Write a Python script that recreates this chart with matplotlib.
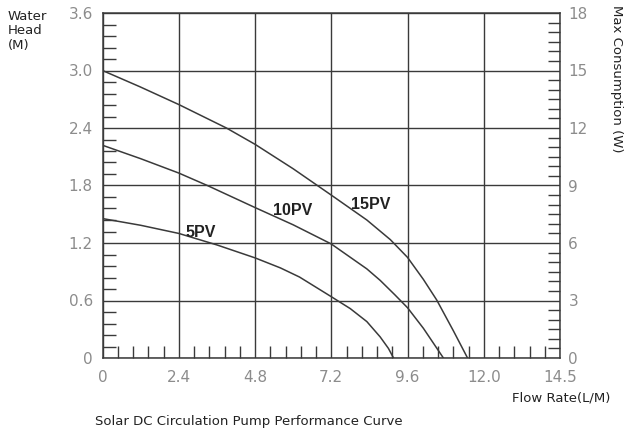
import matplotlib
matplotlib.use("Agg")
from matplotlib import pyplot as plt
from matplotlib.ticker import FixedLocator, MultipleLocator

# readings
flow_15pv = [0, 1.18, 2.4, 3.9, 4.8, 6.0, 7.2, 8.32, 9.06, 9.6, 10.1, 10.52, 11.05, 11.49]
head_15pv = [3.0, 2.83, 2.645, 2.40, 2.23, 1.975, 1.70, 1.44, 1.235, 1.05, 0.82, 0.605, 0.28, 0.0]

flow_10pv = [0, 1.2, 2.4, 3.3, 4.8, 6.0, 7.2, 8.32, 8.74, 9.2, 9.6, 10.1, 10.73]
head_10pv = [2.22, 2.08, 1.93, 1.80, 1.57, 1.39, 1.19, 0.93, 0.81, 0.66, 0.525, 0.31, 0.0]

flow_5pv = [0, 1.2, 2.4, 3.6, 4.8, 5.6, 6.2, 7.2, 7.8, 8.32, 8.74, 9.0, 9.16]
head_5pv = [1.455, 1.385, 1.30, 1.18, 1.045, 0.94, 0.845, 0.64, 0.515, 0.38, 0.22, 0.10, 0.0]

curve_labels = ["5PV", "10PV", "15PV"]
label_x = [3.1, 6.0, 8.45]
label_y = [1.31, 1.54, 1.60]

x_ticks = [0, 2.4, 4.8, 7.2, 9.6, 12.0, 14.4]
x_labels = ["0", "2.4", "4.8", "7.2", "9.6", "12.0", "14.5"]
head_ticks = [0, 0.6, 1.2, 1.8, 2.4, 3.0, 3.6]
head_labels = ["0", "0.6", "1.2", "1.8", "2.4", "3.0", "3.6"]
power_ticks = [0, 3, 6, 9, 12, 15, 18]

W, H = 634, 430
line_col = "#3a3a3a"
tick_col = "#8c8c8c"

fig = plt.figure(figsize=(W / 100, H / 100), dpi=100)
ax = fig.add_axes([102.5 / W, 1 - 358 / H, (560 - 102.5) / W, (358 - 13) / H])

for fx, hy in [(flow_15pv, head_15pv), (flow_10pv, head_10pv), (flow_5pv, head_5pv)]:
    ax.plot(fx, hy, color=line_col, lw=1.1, solid_joinstyle="round")

for txt, lx, ly in zip(curve_labels, label_x, label_y):
    ax.text(lx, ly, txt, ha="center", va="center", fontsize=11.5,
            fontweight="bold", family="Liberation Sans", color="#222222")

ax.set_xlim(0, 14.4)
ax.set_ylim(0, 3.6)
ax.xaxis.set_major_locator(FixedLocator(x_ticks))
ax.set_xticklabels(x_labels)
ax.yaxis.set_major_locator(FixedLocator(head_ticks))
ax.set_yticklabels(head_labels)
ax.xaxis.set_minor_locator(MultipleLocator(0.48))
ax.yaxis.set_minor_locator(MultipleLocator(0.12))
ax.grid(True, which="major", color=line_col, lw=1.0)
ax.tick_params(which="major", length=0, labelsize=11, labelcolor=tick_col)
ax.tick_params(axis="x", which="major", pad=9)
ax.tick_params(axis="y", which="major", pad=7)
ax.tick_params(which="minor", direction="in", length=9, width=1.0, color=line_col)
for s in ax.spines.values():
    s.set_color(line_col)
    s.set_linewidth(1.1)

ax2 = ax.twinx()
ax2.set_ylim(0, 18)
ax2.yaxis.set_major_locator(FixedLocator(power_ticks))
ax2.yaxis.set_minor_locator(MultipleLocator(0.5))
ax2.tick_params(which="major", length=0, labelsize=11, labelcolor=tick_col, pad=6)
ax2.tick_params(which="minor", direction="in", length=9, width=1.0, color=line_col)
for s in ax2.spines.values():
    s.set_visible(False)

lab = dict(fontsize=9.5, color="#222222", family="DejaVu Sans")
fig.text(8 / W, 1 - 17 / H, "Water", va="center", ha="left", **lab)
fig.text(8 / W, 1 - 31 / H, "Head", va="center", ha="left", **lab)
fig.text(8 / W, 1 - 45 / H, "(M)", va="center", ha="left", **lab)
fig.text(617 / W, 1 - 79 / H, "Max Consumption (W)", rotation=270,
         va="center", ha="center", **lab)
fig.text(610 / W, 1 - 398 / H, "Flow Rate(L/M)", va="center", ha="right", **lab)
fig.text(95 / W, 1 - 421 / H, "Solar DC Circulation Pump Performance Curve",
         va="center", ha="left", **lab)

fig.savefig("out.png", dpi=100)
